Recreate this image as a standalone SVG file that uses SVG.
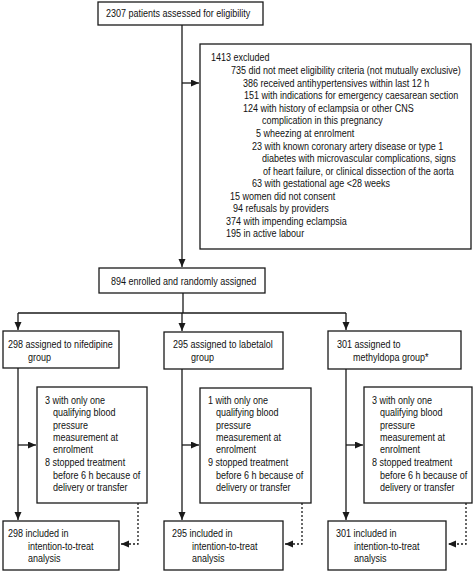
<svg xmlns="http://www.w3.org/2000/svg" width="474" height="571" viewBox="0 0 474 571">
<style>
.box{fill:#fff;stroke:#1a1a1a;stroke-width:1.3}
.ln{fill:none;stroke:#1a1a1a;stroke-width:1.3}
.dot{fill:none;stroke:#1a1a1a;stroke-width:1.3;stroke-dasharray:2,2}
text{font-family:"Liberation Sans",Arial,sans-serif;font-size:11px;fill:#111}
</style>
<defs>
<marker id="ah" markerUnits="userSpaceOnUse" markerWidth="9" markerHeight="8" refX="8" refY="3.5" orient="auto">
<path d="M0,0 L8,3.5 L0,7 z" fill="#1a1a1a"/>
</marker>
</defs>
<rect width="474" height="571" fill="#fff"/>

<g id="connectors">
<line class="ln" x1="182" y1="25" x2="182" y2="267" marker-end="url(#ah)"/>
<line class="ln" x1="182" y1="83" x2="199" y2="83" marker-end="url(#ah)"/>
<line class="ln" x1="183" y1="293" x2="183" y2="313"/>
<line class="ln" x1="18" y1="313" x2="346" y2="313"/>
<line class="ln" x1="18" y1="313" x2="18" y2="330" marker-end="url(#ah)"/>
<line class="ln" x1="182" y1="313" x2="182" y2="331" marker-end="url(#ah)"/>
<line class="ln" x1="346" y1="313" x2="346" y2="330" marker-end="url(#ah)"/>
<line class="ln" x1="18" y1="368" x2="18" y2="520" marker-end="url(#ah)"/>
<line class="ln" x1="182" y1="369" x2="182" y2="520" marker-end="url(#ah)"/>
<line class="ln" x1="346" y1="369" x2="346" y2="520" marker-end="url(#ah)"/>
<line class="ln" x1="18" y1="445" x2="36" y2="445" marker-end="url(#ah)"/>
<line class="ln" x1="182" y1="445" x2="199" y2="445" marker-end="url(#ah)"/>
<line class="ln" x1="346" y1="445" x2="363" y2="445" marker-end="url(#ah)"/>
<polyline class="dot" points="138,503 138,544 121,544" marker-end="url(#ah)"/>
<polyline class="dot" points="302,503 302,544 285,544" marker-end="url(#ah)"/>
<polyline class="dot" points="466,503 466,544 448,544" marker-end="url(#ah)"/>
</g>

<g id="assessed">
<rect class="box" x="98" y="2" width="165" height="23"/>
<text transform="translate(106 17) scale(.82 1)">2307 patients assessed for eligibility</text>
</g>

<g id="excluded">
<rect class="box" x="200" y="44" width="271" height="205"/>
<text transform="translate(211 61) scale(.82 1)">1413 excluded</text>
<text transform="translate(231 74) scale(.82 1)">735 did not meet eligibility criteria (not mutually exclusive)</text>
<text transform="translate(243 87) scale(.82 1)">386 received antihypertensives within last 12 h</text>
<text transform="translate(244 99) scale(.82 1)">151 with indications for emergency caesarean section</text>
<text transform="translate(243 112) scale(.82 1)">124 with history of eclampsia or other CNS</text>
<text transform="translate(262 124) scale(.82 1)">complication in this pregnancy</text>
<text transform="translate(256 137) scale(.82 1)">5 wheezing at enrolment</text>
<text transform="translate(252 150) scale(.82 1)">23 with known coronary artery disease or type 1</text>
<text transform="translate(262 162) scale(.82 1)">diabetes with microvascular complications, signs</text>
<text transform="translate(263 175) scale(.82 1)">of heart failure, or clinical dissection of the aorta</text>
<text transform="translate(252 187) scale(.82 1)">63 with gestational age &lt;28 weeks</text>
<text transform="translate(230 200) scale(.82 1)">15 women did not consent</text>
<text transform="translate(233 212) scale(.82 1)">94 refusals by providers</text>
<text transform="translate(226 225) scale(.82 1)">374 with impending eclampsia</text>
<text transform="translate(226 237) scale(.82 1)">195 in active labour</text>
</g>

<g id="enrolled">
<rect class="box" x="99" y="268" width="166" height="25"/>
<text transform="translate(111 285) scale(.82 1)">894 enrolled and randomly assigned</text>
</g>

<g id="nifedipine">
<rect class="box" x="3" y="331" width="116" height="37"/>
<text transform="translate(8 348) scale(.82 1)">298 assigned to nifedipine</text>
<text transform="translate(28 361) scale(.82 1)">group</text>
</g>
<g id="labetalol">
<rect class="box" x="164" y="332" width="119" height="37"/>
<text transform="translate(173 348) scale(.82 1)">295 assigned to labetalol</text>
<text transform="translate(191 361) scale(.82 1)">group</text>
</g>
<g id="methyldopa">
<rect class="box" x="328" y="331" width="133" height="38"/>
<text transform="translate(337 348) scale(.82 1)">301 assigned to</text>
<text transform="translate(353 361) scale(.82 1)">methyldopa group*</text>
</g>

<g id="nif-excl">
<rect class="box" x="37" y="387" width="110" height="116"/>
<text transform="translate(45 404) scale(.82 1)">3 with only one</text>
<text transform="translate(53 416) scale(.82 1)">qualifying blood</text>
<text transform="translate(53 429) scale(.82 1)">pressure</text>
<text transform="translate(53 441) scale(.82 1)">measurement at</text>
<text transform="translate(53 453) scale(.82 1)">enrolment</text>
<text transform="translate(45 466) scale(.82 1)">8 stopped treatment</text>
<text transform="translate(53 479) scale(.82 1)">before 6 h because of</text>
<text transform="translate(53 491) scale(.82 1)">delivery or transfer</text>
</g>
<g id="lab-excl">
<rect class="box" x="200" y="388" width="111" height="115"/>
<text transform="translate(208 404) scale(.82 1)">1 with only one</text>
<text transform="translate(216 416) scale(.82 1)">qualifying blood</text>
<text transform="translate(216 429) scale(.82 1)">pressure</text>
<text transform="translate(216 441) scale(.82 1)">measurement at</text>
<text transform="translate(216 453) scale(.82 1)">enrolment</text>
<text transform="translate(208 466) scale(.82 1)">9 stopped treatment</text>
<text transform="translate(216 479) scale(.82 1)">before 6 h because of</text>
<text transform="translate(216 491) scale(.82 1)">delivery or transfer</text>
</g>
<g id="met-excl">
<rect class="box" x="364" y="387" width="108" height="116"/>
<text transform="translate(372 404) scale(.82 1)">3 with only one</text>
<text transform="translate(380 416) scale(.82 1)">qualifying blood</text>
<text transform="translate(380 429) scale(.82 1)">pressure</text>
<text transform="translate(380 441) scale(.82 1)">measurement at</text>
<text transform="translate(380 453) scale(.82 1)">enrolment</text>
<text transform="translate(372 466) scale(.82 1)">8 stopped treatment</text>
<text transform="translate(380 479) scale(.82 1)">before 6 h because of</text>
<text transform="translate(380 491) scale(.82 1)">delivery or transfer</text>
</g>

<g id="nif-itt">
<rect class="box" x="3" y="521" width="116" height="49"/>
<text transform="translate(8 537) scale(.82 1)">298 included in</text>
<text transform="translate(28 550) scale(.82 1)">intention-to-treat</text>
<text transform="translate(28 562) scale(.82 1)">analysis</text>
</g>
<g id="lab-itt">
<rect class="box" x="164" y="521" width="119" height="49"/>
<text transform="translate(172 537) scale(.82 1)">295 included in</text>
<text transform="translate(192 550) scale(.82 1)">intention-to-treat</text>
<text transform="translate(192 562) scale(.82 1)">analysis</text>
</g>
<g id="met-itt">
<rect class="box" x="328" y="521" width="118" height="49"/>
<text transform="translate(336 537) scale(.82 1)">301 included in</text>
<text transform="translate(354 550) scale(.82 1)">intention-to-treat</text>
<text transform="translate(354 562) scale(.82 1)">analysis</text>
</g>
</svg>
